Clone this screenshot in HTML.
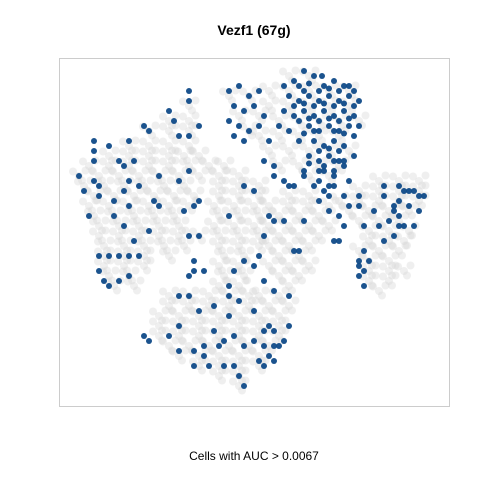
<!DOCTYPE html>
<html><head><meta charset="utf-8"><style>
html,body{margin:0;padding:0;background:#fff;}
svg{display:block;font-family:"Liberation Sans",sans-serif;}
</style></head><body>
<svg id="chart" width="480" height="480">
<rect x="0" y="0" width="480" height="480" fill="#fff"/>
<text x="254" y="35" text-anchor="middle" font-size="14" font-weight="bold" fill="#000">Vezf1 (67g)</text>
<rect x="59.5" y="58.5" width="390" height="348" fill="none" stroke="#cccccc" stroke-width="1"/>
<g id="gray"></g>
<g id="blue"></g>
<text x="254" y="460" text-anchor="middle" font-size="12" fill="#000">Cells with AUC &gt; 0.0067</text>
</svg>
<script>
const grayRows = [
[55,[18,22,26]],[52,[14,18,22,26]],[50,[10,14,18,22,25,28]],[48,[6,10,14,18,22,26,30,33]],
[46,[4,8,12,16,20,24,28,32,36]],[44,[5,9,13,17,21,25,32,36,40]],[42,[7,11,15,19,23,27,32,36,40,46,50]],
[40,[6,10,14,18,22,26,31,35,39,42,46,50,54]],[38,[7,11,15,19,23,32,36,40,44,48,52]],
[36,[8,12,16,20,24,31,35,39,42,46,50,54]],[34,[8,12,16,20,24,28,32,36,40,44,48,52]],
[32,[9,13,17,21,25,32,36,40,42,46,50]],[30,[9,13,17,22,33,37,44,48]],[28,[9,13,17,32,36,42,46,50]],
[26,[10,14,33,37,44,48]],[24,[11,15,32,36,46]],[22,[22,26,30,34,38,40,44]],
[20,[22,26,30,34,38,42,46]],[18,[20,24,28,32,36,40,44]],[16,[20,24,28,32,36,40,44]],
[14,[20,24,28,32,36,40,44]],[12,[22,26,30,34,38,42]],[10,[24,28,32,36,40]],[8,[28,32,36,40]],
[6,[32,36]],[4,[36]],
[45,[64,68,72]],[43,[60,64,68,72]],[41,[56,60,64,68,72]],[39,[58,62,66,70]],[37,[60,64,68]],
[35,[62,66,70]],[33,[62,66,69]],[31,[60,64,68]],[29,[62,66]],[27,[62,66,69]],[25,[62,66]],[23,[64]],
[66,[46,50]],[63,[42,46,50,54,58]],[60,[26,42,46,50,54,58]],[57,[22,26,44,48,52,56,60]],
[54,[40,44,48,52,56]],[51,[42,46,50,54,58]],[48,[44,48,52,56]],[46,[50,54]],
[62,[34,38]],[58,[36,40]],[55,[38]]
];
const bluePts = [
[45,64],[47,65],[49,63],[51,66],[53,64],[55,65],[57,64],[59,63],[46,62],[48,61],[50,62],[52,61],[54,62],[56,61],[58,62],[60,61],
[45,59],[47,58],[49,59],[51,58],[53,59],[55,58],[57,59],[59,58],[44,56],[46,55],[50,56],[52,55],[54,56],[56,55],[58,56],
[48,53],[51,53],[53,52],[55,53],[57,52],[59,54],[50,50],[52,49],[54,50],[56,49],[53,47],[55,46],[57,48],[49,47],[45,45],
[43,48],[47,44],[51,44],[53,43],[59,50],[60,56],[49,67],[52.6,66],[43,46],[46,44],[49,46],[52,45],[55,44],[58,45],[41,49],
[48,64],[50,64.5],[52,63],[54,63.5],[56,63],[58,64],[47,60],[49,60.5],[51,60],[53,60.5],[55,60],[57,60.5],[59,60],
[48,57],[50,57.5],[52,57],[54,57.5],[56,57],[58,57.5],[49,54.5],[51,55],[55,55],[57,54.5],[52,51],[54,51.5],[56,51],[50,48.5],[55,49],
[34,63],[36,64],[38,62],[40,63],[35,60],[37,59],[39,60],[41,58],[34,57],[36,56],[38,55],[40,56],[37,53],[42,53],[35,54],
[26,63],[26,61],[22,59],[23,57],[28,56],[26,54],[24,54],[18,55],[17,56],[12,49],[10,52],[7,53],[14,53],
[7,51],[7,49],[4,46],[7,45],[8,44],[5,43],[8,42],[11,41],[6,38],[11,38],[13,43],[14,45],[13,48],[15,49],[14,40],[13,36],
[15,33],[12,30],[10,30],[8,30],[8,27],[9,25],[12,25],[10,24],[14,26],[14,30],[16,30],[18,35],[16,44],[20,46],[19,41],
[20,40],[24,45],[26,47],[28,41],[27,40],[25,39],
[37,44],[39,43],[34,38],[28,34],[26,34],[27,29],[26,26],[27,27],[29,27],[34,24],[35,27],[37,29],[39,28],[40,30],[36,21],
[34,22],[39,19],[41,25],[43,23],[46,22],[47,31],[42,38],[43,37],[45,37],[49,37],[48,31],[41,34],
[24,22],[26,22],[24,16],[28,19],[31,20],[34,18],[35,14],[37,12],[39,13],[41,15],[42,16],[43,15],[41,12],[43,12],[42,10],
[43,9],[41,8],[40,9],[44,12],[46,16],[45,13],[31,15],[33,13],[29,12],[27,11],[27,8],[24,11],[22,14],[18,13],[17,14],
[29,10],[30,8],[35,8],[36,6],[37,4],[33,8],[32,12],
[52,47],[53,48],[55,47],[57,49],[54,42],[57,42],[58,40],[60,42],[60,40],[52,41],[54,39],[56,38],[57,36],[61,36],[63,39],
[65,42],[65,44],[67,40],[68,41],[69,43],[68,44],[70,43],[71,43],[72,42],[73,42],[70,40],[72,39],[68,38],[67,39],[64,36],
[65,33],[67,34],[68,36],[56,33],[55,33],[61,31],[60,29],[60,28],[61,27],[61,24],[60,26],[62,29],[69,36],[66,37],[71,36],[54,44]
];
const xDomain = [0, 78], yDomain = [0, 69.6];
function sx(v){ return 59 + (v - xDomain[0]) / (xDomain[1] - xDomain[0]) * 390; }
function sy(v){ return 406 - (v - yDomain[0]) / (yDomain[1] - yDomain[0]) * 348; }
const NS = "http://www.w3.org/2000/svg";
const g1 = document.getElementById("gray");
grayRows.forEach(function(row){
  row[1].forEach(function(x){
    [[0,0],[1.3,1.1],[-1.2,0.9],[0.6,-0.9]].forEach(function(o){
      const c = document.createElementNS(NS, "circle");
      c.setAttribute("cx", sx(x + o[0]));
      c.setAttribute("cy", sy(row[0] + o[1]));
      c.setAttribute("r", 4);
      c.setAttribute("fill", "#d6d6d6");
      c.setAttribute("fill-opacity", "0.38");
      
      
      g1.appendChild(c);
    });
  });
});
const g2 = document.getElementById("blue");
bluePts.forEach(function(p){
  const c = document.createElementNS(NS, "circle");
  c.setAttribute("cx", sx(p[0]));
  c.setAttribute("cy", sy(p[1]));
  c.setAttribute("r", 3);
  c.setAttribute("fill", "#0f4a88");
  c.setAttribute("fill-opacity", "0.95");
  
  
  g2.appendChild(c);
});
</script>
</body></html>
